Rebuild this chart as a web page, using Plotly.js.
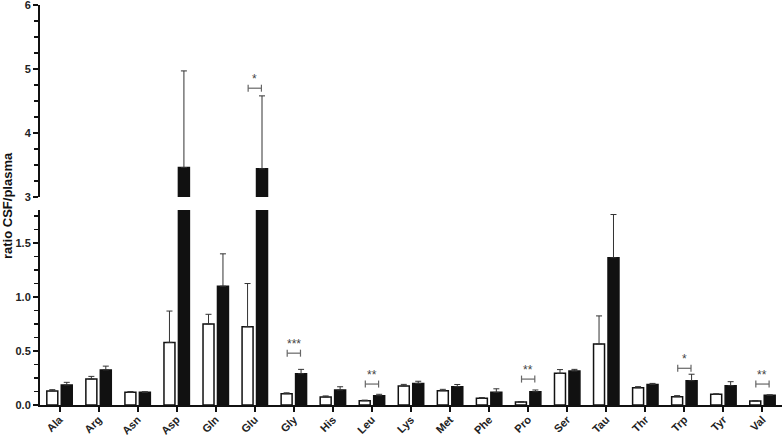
<!DOCTYPE html>
<html>
<head>
<meta charset="utf-8">
<script src="https://cdn.plot.ly/plotly-3.0.1.min.js"></script>
<style>
  html, body { margin: 0; padding: 0; background: #fff; }
  #chart { width: 784px; height: 437px; }
</style>
</head>
<body>
<div id="chart"></div>
<script>
// amino acids on the x axis
const cats = ["Ala","Arg","Asn","Asp","Gln","Glu","Gly","His","Leu","Lys",
              "Met","Phe","Pro","Ser","Tau","Thr","Trp","Tyr","Val"];

// open bars (group 1): mean ratio and upper error
const whiteVals = [0.13, 0.24, 0.117, 0.58, 0.75, 0.725, 0.105, 0.074, 0.04, 0.176,
                   0.133, 0.062, 0.028, 0.293, 0.565, 0.16, 0.077, 0.099, 0.037];
const whiteErr  = [0.012, 0.025, 0.008, 0.29, 0.09, 0.40, 0.008, 0.01, 0.005, 0.015,
                   0.012, 0.007, 0.004, 0.035, 0.26, 0.01, 0.01, 0.005, 0.004];

// filled bars (group 2)
const blackVals = [0.185, 0.325, 0.117, 3.46, 1.10, 3.44, 0.29, 0.139, 0.086, 0.20,
                   0.17, 0.117, 0.123, 0.315, 1.364, 0.19, 0.225, 0.179, 0.09];
const blackErr  = [0.025, 0.035, 0.006, 1.51, 0.30, 1.14, 0.04, 0.03, 0.013, 0.02,
                   0.02, 0.033, 0.016, 0.015, 0.40, 0.01, 0.06, 0.037, 0.004];

// significance brackets
const sigCats   = ["Glu", "Gly", "Leu", "Pro", "Trp", "Val"];
const sigLabels = ["*", "***", "**", "**", "*", "**"];
const sigY      = [4.70, 0.48, 0.194, 0.24, 0.34, 0.194];

const LOW_MAX = 1.806;   // top of the lower panel (axis break)
const idx = cats.map((c, i) => i);
const font = { family: "Liberation Sans, Arial, sans-serif", size: 11, color: "#222", weight: "bold" };

function bars(vals, errs, fill, yax) {
  return {
    type: "bar", x: idx, y: vals, yaxis: yax, showlegend: false, hoverinfo: "skip",
    marker: { color: fill, line: { color: "#111", width: 1.5 } },
    error_y: { type: "data", symmetric: false, array: errs, arrayminus: errs.map(() => 0),
               color: "#333", thickness: 1, width: 3 }
  };
}

const traces = [
  bars(whiteVals, whiteErr, "#fff", "y"),
  bars(blackVals, blackErr, "#111", "y"),
  bars(whiteVals, whiteErr, "#fff", "y2"),
  bars(blackVals, blackErr, "#111", "y2")
];

// brackets + asterisks
const shapes = [], annos = [];
sigCats.forEach(function (c, k) {
  const i = cats.indexOf(c);
  const yr = sigY[k] > LOW_MAX ? "y2" : "y";
  const ln = { color: "#666", width: 1.2 };
  shapes.push({ type: "line", xref: "x", yref: yr, x0: i - 0.17, x1: i + 0.17, y0: sigY[k], y1: sigY[k], line: ln });
  [i - 0.17, i + 0.17].forEach(function (xx) {
    shapes.push({ type: "line", xref: "x", yref: yr, x0: xx, x1: xx, ysizemode: "pixel",
                  yanchor: sigY[k], y0: -3.5, y1: 3.5, line: ln });
  });
  annos.push({ xref: "x", yref: yr, x: i, y: sigY[k], text: sigLabels[k], showarrow: false,
               yanchor: "bottom", yshift: 0, font: { family: font.family, size: 12, color: "#444" } });
});

annos.push({ xref: "paper", yref: "paper", x: 0, y: 0.4975, xanchor: "center", yanchor: "middle",
             xshift: -32, textangle: -90, text: "ratio CSF/plasma", showarrow: false,
             font: { family: font.family, size: 13, color: "#111", weight: "bold" } });

const yCommon = {
  showline: true, linecolor: "#111", linewidth: 2, ticks: "outside", ticklen: 5, tickwidth: 2,
  tickcolor: "#111", showgrid: false, zeroline: false, tickfont: font, fixedrange: true,
  ticklabeloverflow: "allow"
};

const layout = {
  width: 784, height: 437,
  margin: { l: 40, r: 2, t: 5, b: 32 },
  paper_bgcolor: "#fff", plot_bgcolor: "#fff",
  barmode: "group", bargap: 0.26, bargroupgap: 0.24,
  xaxis: {
    range: [-0.5, cats.length - 0.5], tickvals: idx, ticktext: cats, tickangle: -45,
    showline: true, linecolor: "#111", linewidth: 2, ticks: "outside", ticklen: 5, tickwidth: 2,
    tickcolor: "#111", showgrid: false, zeroline: false, tickfont: font, anchor: "y",
    ticklabeloverflow: "allow", ticklabelstandoff: -3
  },
  yaxis: Object.assign({}, yCommon, {
    domain: [0, 0.4875], range: [0, LOW_MAX], dtick: 0.5, tick0: 0, tickformat: ".1f",
    minor: { dtick: 0.125, ticklen: 4, tickwidth: 1.5, tickcolor: "#111", ticks: "outside" }
  }),
  yaxis2: Object.assign({}, yCommon, {
    domain: [0.52, 1], range: [3, 6], dtick: 1, tick0: 3,
    minor: { dtick: 0.25, ticklen: 4, tickwidth: 1.5, tickcolor: "#111", ticks: "outside" }
  }),
  shapes: shapes,
  annotations: annos
};

Plotly.newPlot("chart", traces, layout, { displayModeBar: false, staticPlot: true });
</script>
</body>
</html>
